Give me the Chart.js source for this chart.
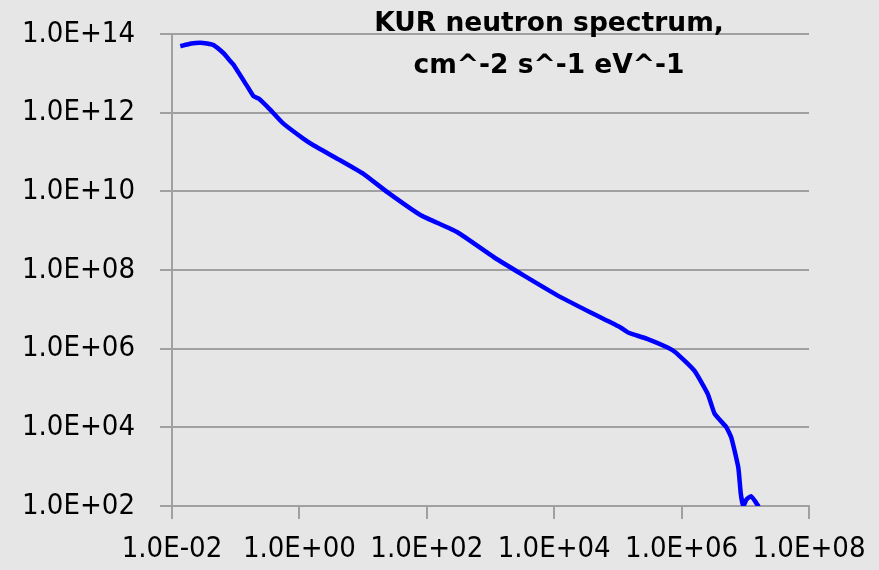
<!DOCTYPE html>
<html lang="en">
<head>
    <meta charset="UTF-8">
    <title>KUR neutron spectrum</title>
    <script src="https://cdn.jsdelivr.net/npm/chart.js"></script>
    <style>
        html, body { margin: 0; padding: 0; background: #e6e6e6; }
        #wrap { position: relative; width: 879px; height: 570px; }
        #title {
            position: absolute; left: 349px; top: 1px; width: 400px;
            text-align: center; font-family: 'Comic Sans MS', 'DejaVu Sans', sans-serif;
            font-weight: bold; font-size: 26.5px; line-height: 42px; color: #000;
        }
    </style>
</head>
<body>
    <div id="wrap">
        <canvas id="myChart" width="879" height="570"></canvas>
        <div id="title">KUR neutron spectrum,<br>cm^-2 s^-1 eV^-1</div>
    </div>

    <script>
        // energy (eV) and flux
        const energy = [1.35e-2, 2.0e-2, 2.75e-2, 3.55e-2, 4.47e-2, 6.46e-2, 7.76e-2, 9.12e-2,
            0.148, 0.191, 0.229, 0.347, 0.562, 1.15, 1.66, 4.37, 10, 24.0, 79.4, 302,
            1.12e3, 3.31e3, 1.26e4, 4.17e4, 1.10e5, 1.41e5, 1.70e5, 2.88e5, 6.03e5, 8.13e5,
            1.585e6, 2.57e6, 3.31e6, 5.01e6, 6.03e6, 7.76e6, 8.51e6, 9.33e6, 1.047e7, 1.23e7,
            1.413e7, 1.622e7];
        const flux = [4.9e13, 5.75e13, 6.03e13, 5.75e13, 5.25e13, 3.24e13, 2.29e13, 1.70e13,
            5.01e12, 2.6e12, 2.29e12, 1.2e12, 5.25e11, 2.19e11, 1.48e11, 6.17e10, 2.82e10, 9.55e9, 2.51e9, 9.12e8,
            2.14e8, 7.3e7, 2.04e7, 7.59e6, 3.47e6, 2.63e6, 2.34e6, 1.78e6, 1.07e6, 7.94e5,
            2.75e5, 7.08e4, 2.19e4, 1.02e4, 5.50e3, 955, 200, 100, 148, 178,
            135, 95.5];

        const xTicks = [1e-2, 1e0, 1e2, 1e4, 1e6, 1e8];
        const xLabels = ['1.0E-02', '1.0E+00', '1.0E+02', '1.0E+04', '1.0E+06', '1.0E+08'];
        const yTicks = [1e2, 1e4, 1e6, 1e8, 1e10, 1e12, 1e14];
        const yLabels = ['1.0E+02', '1.0E+04', '1.0E+06', '1.0E+08', '1.0E+10', '1.0E+12', '1.0E+14'];

        const gridColor = '#a0a0a0';
        const tickFont = { family: "'DejaVu Sans Condensed', 'DejaVu Sans', sans-serif", size: 29 };

        const ctx = document.getElementById('myChart').getContext('2d');
        new Chart(ctx, {
            type: 'line',
            data: {
                datasets: [{
                    data: energy.map((e, i) => ({ x: e, y: flux[i] })),
                    borderColor: '#0000ff',
                    borderWidth: 4.5,
                    pointRadius: 0,
                    fill: false,
                    tension: 0.15
                }]
            },
            options: {
                responsive: false,
                animation: false,
                layout: { padding: { top: 34, right: 70, left: 0, bottom: 0 } },
                plugins: { legend: { display: false }, tooltip: { enabled: false } },
                scales: {
                    x: {
                        type: 'logarithmic',
                        min: 1e-2,
                        max: 1e8,
                        afterBuildTicks: s => { s.ticks = xTicks.map(v => ({ value: v })); },
                        afterFit: s => { s.height = 64; s.paddingLeft = 0; s.paddingRight = 0; },
                        ticks: {
                            color: '#000',
                            font: tickFont,
                            padding: 13,
                            maxRotation: 0,
                            autoSkip: false,
                            callback: (v, i) => xLabels[i]
                        },
                        grid: { drawOnChartArea: false, color: gridColor, lineWidth: 2, tickLength: 13 },
                        border: { color: gridColor, width: 2 }
                    },
                    y: {
                        type: 'logarithmic',
                        min: 1e2,
                        max: 1e14,
                        afterBuildTicks: s => { s.ticks = yTicks.map(v => ({ value: v })); },
                        afterFit: s => { s.width = 172; s.paddingTop = 0; s.paddingBottom = 0; },
                        ticks: {
                            color: '#000',
                            font: tickFont,
                            padding: 25,
                            autoSkip: false,
                            callback: (v, i) => yLabels[i]
                        },
                        grid: { color: gridColor, lineWidth: 2, tickLength: 12 },
                        border: { color: gridColor, width: 2 }
                    }
                }
            }
        });
    </script>
</body>
</html>
